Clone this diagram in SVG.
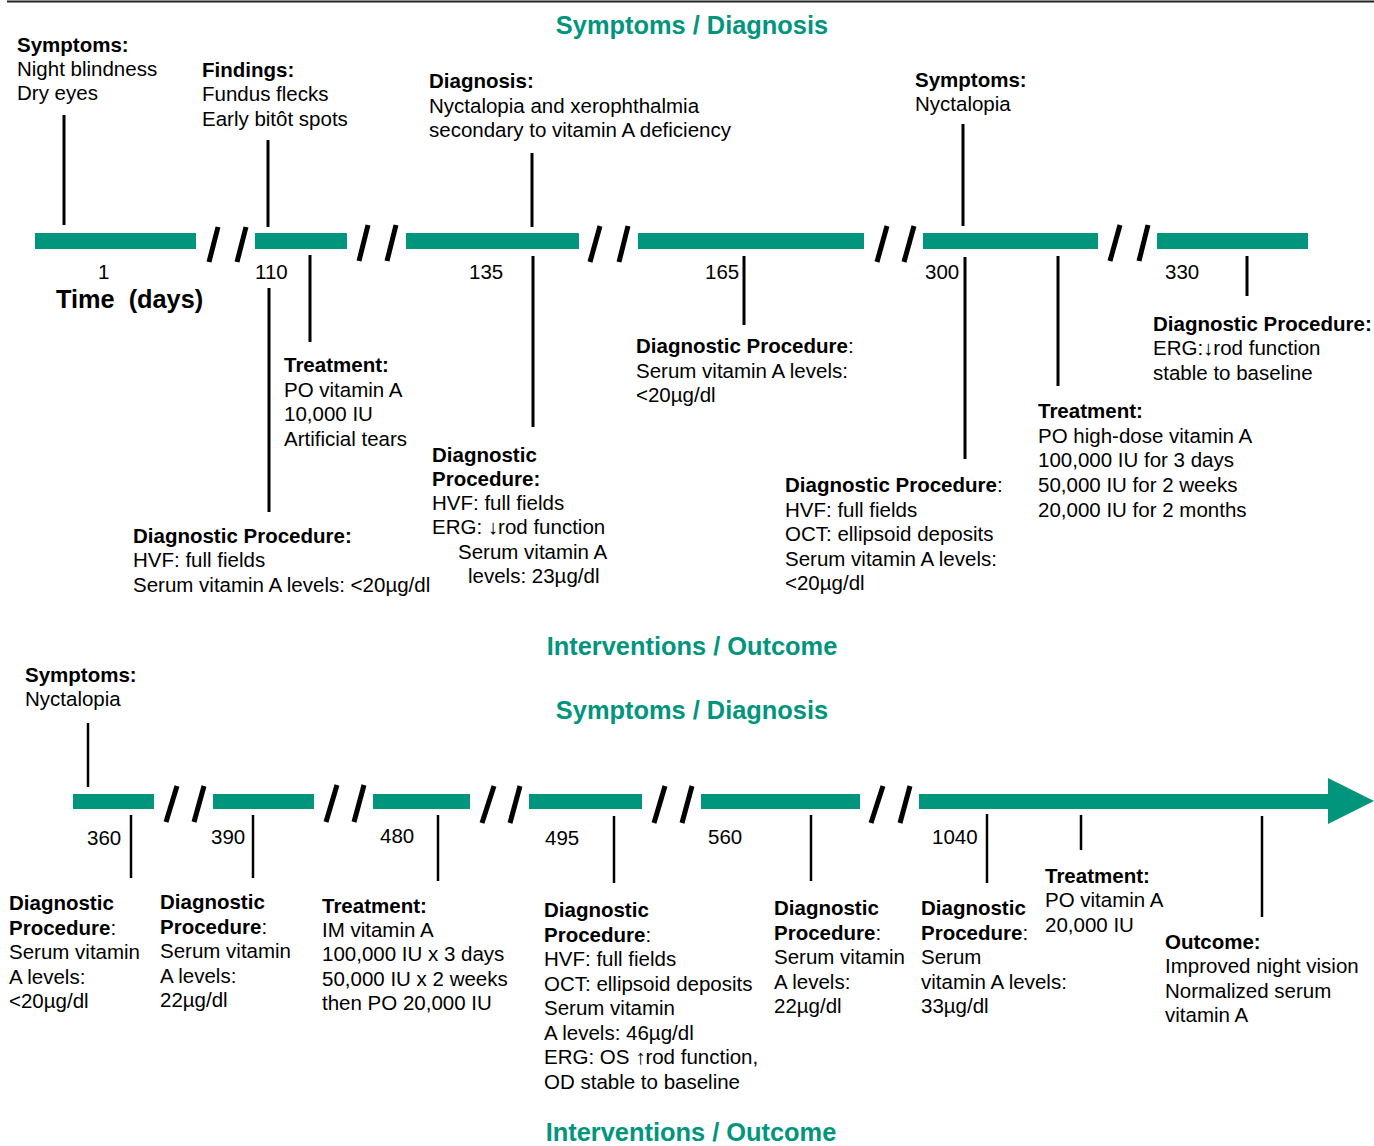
<svg xmlns="http://www.w3.org/2000/svg" width="1374" height="1146" viewBox="0 0 1374 1146">
<style>
text{font-family:"Liberation Sans",Arial,sans-serif;font-size:20.5px;fill:#000}
.b{font-weight:bold}
.h{font-weight:bold;font-size:25.4px;fill:#00957c}
.t{font-weight:bold;font-size:25.3px;white-space:pre}
.bar{fill:#00957c}
.sl{stroke:#000;stroke-width:5;stroke-linecap:butt}
.c{stroke:#000;stroke-width:3}
.c2{stroke:#000;stroke-width:2.5}
</style>
<rect width="1374" height="1146" fill="#fff"/>
<line x1="7" y1="1.5" x2="1374" y2="1.5" stroke="#222" stroke-width="2"/>

<g id="headings">
<text class="h" x="692" y="34" text-anchor="middle">Symptoms / Diagnosis</text>
<text class="h" x="692" y="655" text-anchor="middle">Interventions / Outcome</text>
<text class="h" x="692" y="719" text-anchor="middle">Symptoms / Diagnosis</text>
<text class="h" x="691" y="1141" text-anchor="middle">Interventions / Outcome</text>
</g>

<g id="timeline-top">
<rect class="bar" x="35" y="233" width="161" height="16"/>
<rect class="bar" x="255" y="233" width="92" height="16"/>
<rect class="bar" x="406" y="233" width="173" height="16"/>
<rect class="bar" x="638" y="233" width="226" height="16"/>
<rect class="bar" x="923" y="233" width="175" height="16"/>
<rect class="bar" x="1157" y="233" width="151" height="16"/>
<line class="sl" x1="209" y1="262" x2="218" y2="227"/>
<line class="sl" x1="237" y1="262" x2="246" y2="227"/>
<line class="sl" x1="359" y1="261" x2="368" y2="225"/>
<line class="sl" x1="387" y1="261" x2="396" y2="225"/>
<line class="sl" x1="590" y1="262" x2="600" y2="226"/>
<line class="sl" x1="619" y1="262" x2="628" y2="226"/>
<line class="sl" x1="877" y1="262" x2="887" y2="226"/>
<line class="sl" x1="904" y1="262" x2="914" y2="226"/>
<line class="sl" x1="1110" y1="261" x2="1120" y2="225"/>
<line class="sl" x1="1139" y1="261" x2="1148" y2="225"/>
<text x="98" y="279">1</text>
<text x="255" y="279">110</text>
<text x="469" y="279">135</text>
<text x="705" y="279">165</text>
<text x="925" y="279">300</text>
<text x="1165" y="279">330</text>
<text class="t" x="56" y="308">Time  (days)</text>
</g>

<g id="timeline-bottom">
<rect class="bar" x="73" y="794" width="81" height="15"/>
<rect class="bar" x="213" y="794" width="101" height="15"/>
<rect class="bar" x="373" y="794" width="97" height="15"/>
<rect class="bar" x="529" y="794" width="113" height="15"/>
<rect class="bar" x="701" y="794" width="159" height="15"/>
<rect class="bar" x="919" y="794" width="410" height="15"/>
<polygon class="bar" points="1328,778 1374,801 1328,824"/>
<line class="sl" x1="166" y1="822" x2="177" y2="786"/>
<line class="sl" x1="194" y1="822" x2="204" y2="786"/>
<line class="sl" x1="326" y1="822" x2="337" y2="785"/>
<line class="sl" x1="354" y1="822" x2="364" y2="785"/>
<line class="sl" x1="482" y1="823" x2="494" y2="786"/>
<line class="sl" x1="510" y1="823" x2="520" y2="786"/>
<line class="sl" x1="654" y1="823" x2="665" y2="786"/>
<line class="sl" x1="682" y1="823" x2="692" y2="786"/>
<line class="sl" x1="871" y1="823" x2="883" y2="786"/>
<line class="sl" x1="900" y1="823" x2="910" y2="786"/>
<text x="87" y="845">360</text>
<text x="211" y="844">390</text>
<text x="380" y="843">480</text>
<text x="545" y="845">495</text>
<text x="708" y="844">560</text>
<text x="932" y="844">1040</text>
</g>

<g id="connectors">
<line class="c" x1="64" y1="115" x2="64" y2="225"/>
<line class="c" x1="268" y1="140" x2="268" y2="227"/>
<line class="c" x1="532" y1="153" x2="532" y2="227"/>
<line class="c" x1="963" y1="124" x2="963" y2="226"/>
<line class="c" x1="310" y1="255" x2="310" y2="342"/>
<line class="c" x1="269" y1="288" x2="269" y2="512"/>
<line class="c" x1="533" y1="256" x2="533" y2="427"/>
<line class="c" x1="744" y1="256" x2="744" y2="325"/>
<line class="c" x1="965" y1="257" x2="965" y2="459"/>
<line class="c" x1="1058" y1="256" x2="1058" y2="386"/>
<line class="c" x1="1247" y1="256" x2="1247" y2="296"/>
<line class="c2" x1="88" y1="723" x2="88" y2="787"/>
<line class="c2" x1="131" y1="815" x2="131" y2="878"/>
<line class="c2" x1="253" y1="815" x2="253" y2="878"/>
<line class="c2" x1="438" y1="815" x2="438" y2="881"/>
<line class="c2" x1="614" y1="816" x2="614" y2="883"/>
<line class="c2" x1="811" y1="815" x2="811" y2="881"/>
<line class="c2" x1="987" y1="814" x2="987" y2="883"/>
<line class="c2" x1="1081" y1="815" x2="1081" y2="850"/>
<line class="c2" x1="1262" y1="816" x2="1262" y2="917"/>
</g>

<g id="n-day1-symptoms">
<text class="b" x="17" y="52">Symptoms:</text>
<text x="17" y="76">Night blindness</text>
<text x="17" y="100">Dry eyes</text>
</g>
<g id="n-day110-findings">
<text class="b" x="202" y="77">Findings:</text>
<text x="202" y="101">Fundus flecks</text>
<text x="202" y="126">Early bitôt spots</text>
</g>
<g id="n-day135-diagnosis">
<text class="b" x="429" y="88">Diagnosis:</text>
<text x="429" y="113">Nyctalopia and xerophthalmia</text>
<text x="429" y="137">secondary to vitamin A deficiency</text>
</g>
<g id="n-day300-symptoms">
<text class="b" x="915" y="87">Symptoms:</text>
<text x="915" y="111">Nyctalopia</text>
</g>
<g id="n-day110-treatment">
<text class="b" x="284" y="372">Treatment:</text>
<text x="284" y="397">PO vitamin A</text>
<text x="284" y="421">10,000 IU</text>
<text x="284" y="446">Artificial tears</text>
</g>
<g id="n-day110-diag">
<text class="b" x="133" y="543">Diagnostic Procedure:</text>
<text x="133" y="567">HVF: full fields</text>
<text x="133" y="592">Serum vitamin A levels: &lt;20µg/dl</text>
</g>
<g id="n-day135-diag">
<text class="b" x="432" y="462">Diagnostic</text>
<text class="b" x="432" y="486">Procedure:</text>
<text x="432" y="510">HVF: full fields</text>
<text x="432" y="534">ERG: ↓rod function</text>
<text x="458" y="559">Serum vitamin A</text>
<text x="468" y="583">levels: 23µg/dl</text>
</g>
<g id="n-day165-diag">
<text x="636" y="353"><tspan class="b">Diagnostic Procedure</tspan>:</text>
<text x="636" y="378">Serum vitamin A levels:</text>
<text x="636" y="402">&lt;20µg/dl</text>
</g>
<g id="n-day300-diag">
<text x="785" y="492"><tspan class="b">Diagnostic Procedure</tspan>:</text>
<text x="785" y="517">HVF: full fields</text>
<text x="785" y="541">OCT: ellipsoid deposits</text>
<text x="785" y="566">Serum vitamin A levels:</text>
<text x="785" y="590">&lt;20µg/dl</text>
</g>
<g id="n-day300-treatment">
<text class="b" x="1038" y="418">Treatment:</text>
<text x="1038" y="443">PO high-dose vitamin A</text>
<text x="1038" y="467">100,000 IU for 3 days</text>
<text x="1038" y="492">50,000 IU for 2 weeks</text>
<text x="1038" y="517">20,000 IU for 2 months</text>
</g>
<g id="n-day330-diag">
<text class="b" x="1153" y="331">Diagnostic Procedure:</text>
<text x="1153" y="355">ERG:↓rod function</text>
<text x="1153" y="380">stable to baseline</text>
</g>

<g id="n-day360-symptoms">
<text class="b" x="25" y="682">Symptoms:</text>
<text x="25" y="706">Nyctalopia</text>
</g>
<g id="n-day360-diag">
<text class="b" x="9" y="910">Diagnostic</text>
<text x="9" y="935"><tspan class="b">Procedure</tspan>:</text>
<text x="9" y="959">Serum vitamin</text>
<text x="9" y="984">A levels:</text>
<text x="9" y="1008">&lt;20µg/dl</text>
</g>
<g id="n-day390-diag">
<text class="b" x="160" y="909">Diagnostic</text>
<text x="160" y="934"><tspan class="b">Procedure</tspan>:</text>
<text x="160" y="958">Serum vitamin</text>
<text x="160" y="983">A levels:</text>
<text x="160" y="1007">22µg/dl</text>
</g>
<g id="n-day480-treatment">
<text class="b" x="322" y="913">Treatment:</text>
<text x="322" y="937">IM vitamin A</text>
<text x="322" y="961">100,000 IU x 3 days</text>
<text x="322" y="986">50,000 IU x 2 weeks</text>
<text x="322" y="1010">then PO 20,000 IU</text>
</g>
<g id="n-day495-diag">
<text class="b" x="544" y="917">Diagnostic</text>
<text x="544" y="942"><tspan class="b">Procedure</tspan>:</text>
<text x="544" y="966">HVF: full fields</text>
<text x="544" y="991">OCT: ellipsoid deposits</text>
<text x="544" y="1015">Serum vitamin</text>
<text x="544" y="1040">A levels: 46µg/dl</text>
<text x="544" y="1064">ERG: OS ↑rod function,</text>
<text x="544" y="1089">OD stable to baseline</text>
</g>
<g id="n-day560-diag">
<text class="b" x="774" y="915">Diagnostic</text>
<text x="774" y="940"><tspan class="b">Procedure</tspan>:</text>
<text x="774" y="964">Serum vitamin</text>
<text x="774" y="989">A levels:</text>
<text x="774" y="1013">22µg/dl</text>
</g>
<g id="n-day1040-diag">
<text class="b" x="921" y="915">Diagnostic</text>
<text x="921" y="940"><tspan class="b">Procedure</tspan>:</text>
<text x="921" y="964">Serum</text>
<text x="921" y="989">vitamin A levels:</text>
<text x="921" y="1013">33µg/dl</text>
</g>
<g id="n-day1040-treatment">
<text class="b" x="1045" y="883">Treatment:</text>
<text x="1045" y="907">PO vitamin A</text>
<text x="1045" y="932">20,000 IU</text>
</g>
<g id="n-outcome">
<text class="b" x="1165" y="949">Outcome:</text>
<text x="1165" y="973">Improved night vision</text>
<text x="1165" y="998">Normalized serum</text>
<text x="1165" y="1022">vitamin A</text>
</g>
</svg>
